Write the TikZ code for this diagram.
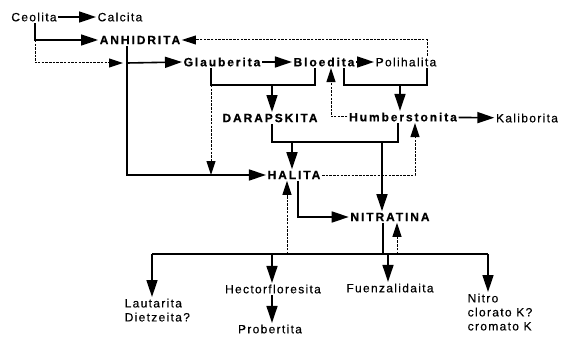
\documentclass[tikz,border=0pt]{standalone}
\usepackage{fontspec}
\setmainfont{Liberation Sans}
\newfontfamily\regf[LetterSpace=11,FakeBold=0.4]{Liberation Sans}
\newfontfamily\bldf[LetterSpace=16,FakeBold=0.6]{Liberation Sans}
\usetikzlibrary{arrows.meta}
\tikzset{
  lbl/.style={font=\regf\fontsize{12}{14}\selectfont, inner sep=1.5pt, text=black},
  blbl/.style={font=\bldf\bfseries\fontsize{12}{14}\selectfont, inner sep=1.5pt, text=black},
  ln/.style={line width=1.6pt, draw=black},
  arr/.style={ln, -{Triangle[length=17pt,width=11pt]}},
  dln/.style={line width=1pt, draw=black, dash pattern=on 2.5pt off 1.2pt},
  darr/.style={dln, -{Triangle[length=14pt,width=9pt]}},
}
\begin{document}
\begin{tikzpicture}[x=1pt,y=-1pt]
\useasboundingbox (0,0) rectangle (571,337);
% nodes
\node[lbl]  (ceo) at (34,17) {Ceolita};
\node[lbl]  (cal) at (120,17) {Calcita};
\node[blbl] (anh) at (140,40) {ANHIDRITA};
\node[blbl] (gla) at (222,62) {Glauberita};
\node[blbl] (blo) at (324,62) {Bloedita};
\node[lbl]  (pol) at (406,62) {Polihalita};
\node[blbl] (dar) at (270,118) {DARAPSKITA};
\node[blbl] (hum) at (403,117) {Humberstonita};
\node[lbl]  (kal) at (527,118) {Kaliborita};
\node[blbl] (hal) at (294,175) {HALITA};
\node[blbl] (nit) at (390,217) {NITRATINA};
\node[lbl, align=left, anchor=north west] (lau) at (123,297) {Lautarita\\Dietzeita?};
\node[lbl]  (hec) at (273,289) {Hectorfloresita};
\node[lbl]  (pro) at (270,329) {Probertita};
\node[lbl]  (fue) at (390,288) {Fuenzalidaita};
\node[lbl, align=left, anchor=north west] (ntr) at (466,292) {Nitro\\clorato K?\\cromato K};
% coordinates
\coordinate (c1) at (35,40);
\coordinate (c2) at (35,63);
\coordinate (av) at (127,63);
\coordinate (ae) at (123,63);
\coordinate (g1) at (211,85);
\coordinate (g2) at (315,85);
\coordinate (gd) at (272,85);
\coordinate (p1) at (344,85);
\coordinate (p2) at (427,85);
\coordinate (ph) at (400,85);
\coordinate (pt) at (427,40);
\coordinate (h1) at (331,117);
\coordinate (d1) at (272,142);
\coordinate (d2) at (398,142);
\coordinate (dh) at (292,142);
\coordinate (dn) at (382,142);
\coordinate (hr) at (415,175);
\coordinate (hn) at (298,217);
\coordinate (b0) at (152,254);
\coordinate (b1) at (488,254);
\coordinate (bh) at (272,254);
\coordinate (bf) at (388,254);
\coordinate (bn) at (383,254);
\coordinate (bu) at (287,254);
\coordinate (bv) at (397,254);
% connectors
\draw[arr] (ceo) -- (cal);
\draw[arr] (ceo.south -| c1) -- (c1) -- (anh.west);
\draw[darr] (c1) -- (c2) -- (ae);
\draw[arr] (anh.south -| av) -- (av |- hal.west) -- (hal.west);
\draw[arr] (av) -- (gla.west);
\draw[arr] (gla) -- (blo);
\draw[arr] (blo) -- (pol);
\draw[ln] (gla.south -| g1) -- (g1) -- (g2) -- (blo.south -| g2);
\draw[arr] (gd) -- (gd |- dar.north);
\draw[darr] (g1) -- (g1 |- hal.west);
\draw[ln] (blo.south -| p1) -- (p1) -- (p2) -- (pol.south -| p2);
\draw[arr] (ph) -- (ph |- hum.north);
\draw[darr] (pol.north -| pt) -- (pt) -- (anh.east);
\draw[darr] (hum.west) -- (h1) -- (h1 |- blo.south);
\draw[arr] (hum) -- (kal);
\draw[ln] (dar.south -| d1) -- (d1) -- (d2) -- (hum.south -| d2);
\draw[arr] (dh) -- (dh |- hal.north);
\draw[arr] (dn) -- (dn |- nit.north);
\draw[darr] (hal.east) -- (hr) -- (hr |- hum.south);
\draw[arr] (hal.south -| hn) -- (hn) -- (nit.west);
\draw[ln] (nit.south -| bn) -- (bn);
\draw[ln] (b0) -- (b1);
\draw[arr] (b0) -- (b0 |- lau.north);
\draw[arr] (bh) -- (bh |- hec.north);
\draw[arr] (bf) -- (bf |- fue.north);
\draw[arr] (b1) -- (b1 |- ntr.north);
\draw[darr] (bu) -- (bu |- hal.south);
\draw[darr] (bv) -- (bv |- nit.south);
\draw[arr] (hec.south -| bh) -- (bh |- pro.north);
\end{tikzpicture}
\end{document}
